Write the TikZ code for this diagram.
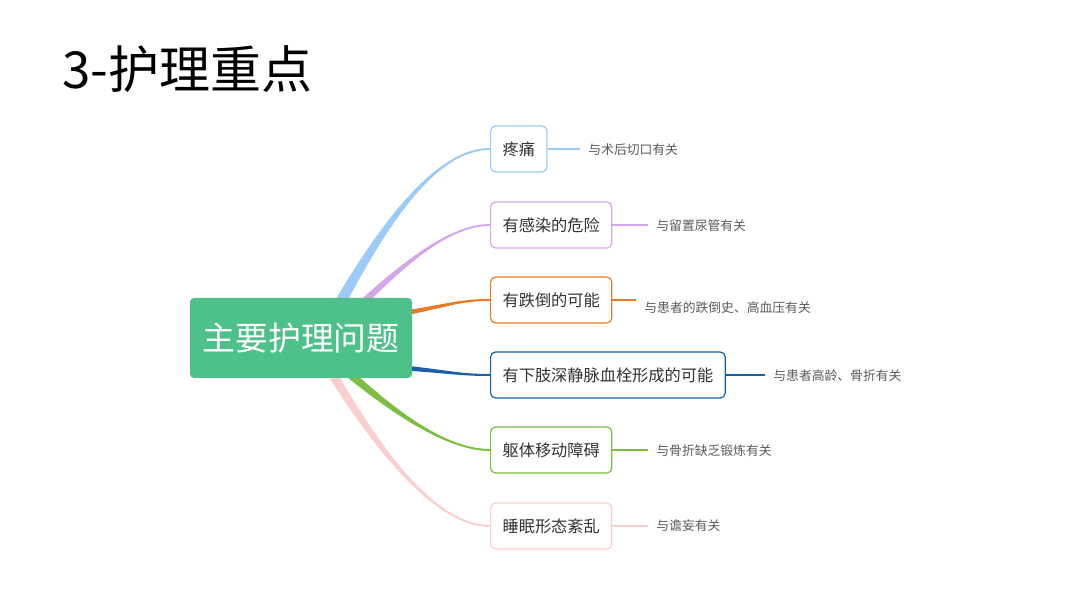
\documentclass[tikz,border=0pt]{standalone}
\usepackage{fontspec}
\setmainfont{Noto Sans CJK SC}
\usetikzlibrary{calc}
\definecolor{cmain}{RGB}{78,192,138}
\definecolor{cblue}{RGB}{157,203,247}
\definecolor{cpurple}{RGB}{212,166,234}
\definecolor{corange}{RGB}{232,122,37}
\definecolor{cdblue}{RGB}{26,95,168}
\definecolor{cgreen}{RGB}{124,189,66}
\definecolor{cpink}{RGB}{251,207,207}
\definecolor{ctext}{RGB}{51,51,51}
\definecolor{cleaf}{RGB}{90,90,90}
\begin{document}
\begin{tikzpicture}[x=0.5pt, y=-0.5pt,
  topic/.style={draw, line width=0.6pt, rounded corners=2.5pt, fill=white, text=ctext,
    font=\fontsize{8.1pt}{10pt}\selectfont, minimum height=23pt, inner xsep=6pt, anchor=west},
  leaf/.style={text=cleaf, font=\fontsize{6.4pt}{8pt}\selectfont, inner xsep=4pt, inner ysep=1pt, anchor=west},
  twig/.style={line width=0.8pt}]
\useasboundingbox (0,0) rectangle (1080,608);
\node[anchor=base west, inner sep=0, font=\fontsize{25.5pt}{30pt}\selectfont] (title) at (62,89) {3-护理重点};
% main topics: name / colour / y / text
\foreach \n/\col/\y/\t in {b1/cblue/149/疼痛, b2/cpurple/225/有感染的危险, b3/corange/300/有跌倒的可能,
    b4/cdblue/375/有下肢深静脉血栓形成的可能, b5/cgreen/450/躯体移动障碍, b6/cpink/526/睡眠形态紊乱}
  \node[topic, draw=\col] (\n) at (490,\y) {\t};
% tapered branches: name / colour / start / control 1 / control 2 / half width
\foreach \n/\col/\sx/\sy/\ax/\ay/\bx/\by/\ox/\oy in {
    b1/cblue/336/310/390/212/440/149/6.5/0,
    b2/cpurple/355/310/405/262/450/225/5.5/0,
    b3/corange/405/313/450/305/460/300/0/2.5,
    b4/cdblue/405/368/450/372/460/375/0/2.5,
    b5/cgreen/345/370/400/418/450/450/-6.5/0,
    b6/cpink/330/370/385/462/440/526/-5.5/0}
  \fill[\col] ({\sx-(\ox)},{\sy-(\oy)}) .. controls ({\ax-0.6*(\ox)},{\ay-0.6*(\oy)}) and (\bx,{\by-1}) .. ($(\n.west)+(0,-1)$)
    -- ($(\n.west)+(0,1)$) .. controls (\bx,{\by+1}) and ({\ax+0.6*(\ox)},{\ay+0.6*(\oy)}) .. ({\sx+\ox},{\sy+\oy}) -- cycle;
\node[fill=cmain, rounded corners=2pt, minimum width=111pt, minimum height=40pt, text=white,
  font=\fontsize{16.4pt}{20pt}\selectfont] (main) at (301,338) {主要护理问题};
% causes
\node[leaf] (l1) at (580,150) {与术后切口有关};
\node[leaf] (l2) at (648,226) {与留置尿管有关};
\node[leaf] (l3) at (636,308) {与患者的跌倒史、高血压有关};
\node[leaf] (l4) at (765,376) {与患者高龄、骨折有关};
\node[leaf] (l5) at (648,451) {与骨折缺乏锻炼有关};
\node[leaf] (l6) at (648,526) {与谵妄有关};
\foreach \b/\l/\col in {b1/l1/cblue, b2/l2/cpurple, b3/l3/corange, b4/l4/cdblue, b5/l5/cgreen, b6/l6/cpink}
  \draw[twig, \col] (\b.east) -- (\b.east -| \l.west);
\end{tikzpicture}
\end{document}
